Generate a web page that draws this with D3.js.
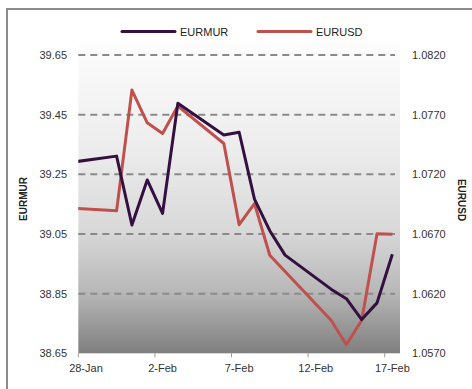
<!DOCTYPE html>
<html><head><meta charset="utf-8">
<script src="https://cdn.jsdelivr.net/npm/d3@7"></script>
<style>body{margin:0;background:#fff;} svg{display:block;font-family:"Liberation Sans",Arial,sans-serif;}</style>
</head><body>
<svg id="c" width="472" height="389"></svg>
<script>
const dates = ["2023-01-27","2023-01-30","2023-01-31","2023-02-01","2023-02-02","2023-02-03","2023-02-06","2023-02-07","2023-02-08","2023-02-09","2023-02-10","2023-02-13","2023-02-14","2023-02-15","2023-02-16","2023-02-17"];
const eurmur = [39.29,39.311,39.080,39.231,39.119,39.488,39.382,39.391,39.167,39.061,38.979,38.865,38.833,38.763,38.819,38.982];
const eurusd = [1.06918,1.06894,1.07906,1.07632,1.07543,1.07772,1.07458,1.06778,1.06954,1.06522,1.06385,1.05977,1.05771,1.05977,1.06702,1.06698];
const leftTicks = [38.65,38.85,39.05,39.25,39.45,39.65];
const rightTicks = [1.0570,1.0620,1.0670,1.0720,1.0770,1.0820];
const xTickDates = ["2023-01-28","2023-02-02","2023-02-07","2023-02-12","2023-02-17"];
const seriesNames = ["EURMUR","EURUSD"];
const colors = ["#33103f","#c0504d"];

const parse = d3.timeParse("%Y-%m-%d");
const svg = d3.select("#c");
const L = 78.3, R = 400, T = 55, B = 353.3, PT = 42;
const x = d3.scaleTime().domain([parse("2023-01-28"), parse("2023-02-18")]).range([L, R]);
const half = d => d3.timeHour.offset(d, 12);
const yL = d3.scaleLinear().domain([38.65, 39.65]).range([B, T]);
const yR = d3.scaleLinear().domain([1.0570, 1.0820]).range([B, T]);

// outer border
svg.append("rect").attr("x",7).attr("y",9).attr("width",480).attr("height",400)
  .attr("fill","none").attr("stroke","#8c8c8c").attr("stroke-width",2);

const defs = svg.append("defs");
const g = defs.append("linearGradient").attr("id","bg").attr("x1",0).attr("y1",0).attr("x2",0).attr("y2",1);
[[0,"#fdfdfd"],[0.35,"#ececec"],[0.6,"#d9d9d9"],[0.8,"#b8b8b8"],[1,"#7f7f7f"]].forEach(s=>g.append("stop").attr("offset",s[0]).attr("stop-color",s[1]));
defs.append("clipPath").attr("id","clip").append("rect").attr("x",L).attr("y",PT).attr("width",R-L).attr("height",B-PT);

svg.append("rect").attr("x",L).attr("y",PT).attr("width",R-L).attr("height",B-PT).attr("fill","url(#bg)");

// gridlines
svg.append("g").selectAll("line").data(leftTicks.slice(1)).join("line")
  .attr("x1",L).attr("x2",R-5).attr("y1",d=>yL(d)).attr("y2",d=>yL(d))
  .attr("stroke","#8a8a8a").attr("stroke-width",2).attr("stroke-dasharray","7,5");

// left axis labels
svg.append("g").selectAll("text").data(leftTicks).join("text")
  .attr("x",67).attr("y",d=>yL(d)+4).attr("text-anchor","end")
  .attr("font-size",11).attr("fill","#333").text(d=>d3.format(".2f")(d));
// right axis labels
svg.append("g").selectAll("text").data(rightTicks).join("text")
  .attr("x",412).attr("y",d=>yR(d)+4).attr("text-anchor","start")
  .attr("font-size",11).attr("fill","#333").text(d=>d3.format(".4f")(d));

// x ticks
const xt = xTickDates.map(parse);
svg.append("g").selectAll("line").data(xt).join("line")
  .attr("x1",d=>x(d)).attr("x2",d=>x(d)).attr("y1",B).attr("y2",B+4)
  .attr("stroke","#999").attr("stroke-width",1);
svg.append("g").selectAll("text").data(xt).join("text")
  .attr("x",d=>x(half(d))).attr("y",372).attr("text-anchor","middle")
  .attr("font-size",11).attr("fill","#333").text(d=>d3.timeFormat("%-d-%b")(d));

// axis titles
svg.append("text").attr("transform","translate(27,199) rotate(-90)").attr("text-anchor","middle")
  .attr("font-size",10).attr("font-weight","bold").attr("fill","#222").text(seriesNames[0]);
svg.append("text").attr("transform","translate(458,200) rotate(90)").attr("text-anchor","middle")
  .attr("font-size",10).attr("font-weight","bold").attr("fill","#222").text(seriesNames[1]);

// lines
const pd = dates.map(parse);
const lineL = d3.line().x((d,i)=>x(half(pd[i]))).y(d=>yL(d));
const lineR = d3.line().x((d,i)=>x(half(pd[i]))).y(d=>yR(d));
const lg = svg.append("g").attr("clip-path","url(#clip)");
lg.append("path").datum(eurusd).attr("d",lineR).attr("fill","none").attr("stroke",colors[1]).attr("stroke-width",3).attr("stroke-linejoin","round");
lg.append("path").datum(eurmur).attr("d",lineL).attr("fill","none").attr("stroke",colors[0]).attr("stroke-width",3).attr("stroke-linejoin","round");

// legend
const legX = [122, 258];
seriesNames.forEach((n,i)=>{
  svg.append("line").attr("x1",legX[i]).attr("x2",legX[i]+53).attr("y1",31.5).attr("y2",31.5)
    .attr("stroke",colors[i]).attr("stroke-width",3).attr("stroke-linecap","round");
  svg.append("text").attr("x",legX[i]+58).attr("y",35.5).attr("font-size",11).attr("fill","#222").text(n);
});
</script>
</body></html>
